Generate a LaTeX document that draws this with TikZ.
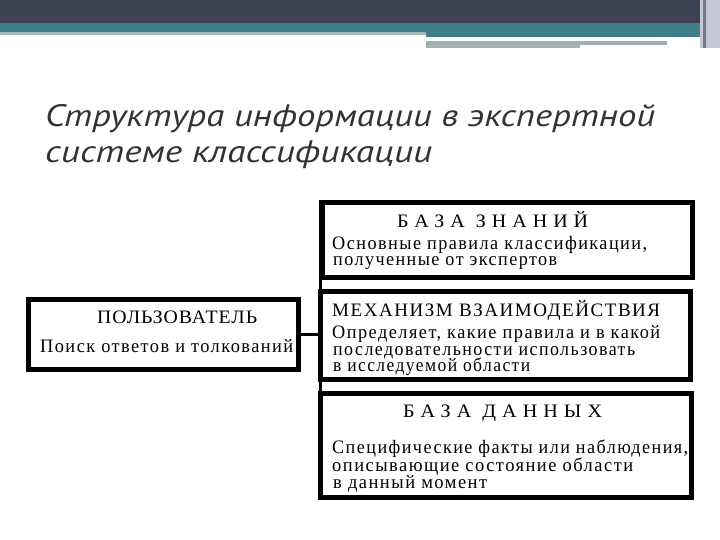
\documentclass[tikz,border=0pt]{standalone}
\usepackage{fontspec}
\usepackage{graphicx}
\setmainfont{Liberation Serif}
\newfontfamily\titlefont{PT Sans}
\newfontfamily\bodyfont{Liberation Serif}[LetterSpace=8]
\newfontfamily\headfont{Liberation Serif}[LetterSpace=30]
\newcommand\fitw[2]{\resizebox{#1}{\height}{#2}}
\definecolor{topdark}{HTML}{3D4354}
\definecolor{topteal}{HTML}{3F7F87}
\definecolor{toplight}{HTML}{A5B7BB}
\definecolor{topgray}{HTML}{9FB0B0}
\definecolor{topgray2}{HTML}{A7B1B0}
\definecolor{sidegray}{HTML}{C6C8D4}
\definecolor{titlegray}{HTML}{333335}
\tikzset{
  box/.style={draw=black, line width=5pt, inner sep=0pt, fill=white},
  txt/.style={anchor=base west, inner sep=0pt, text height=11pt, text depth=3pt, font=\bodyfont\fontsize{19}{19}\selectfont},
  hd/.style={anchor=base west, inner sep=0pt, text height=12pt, text depth=2pt, font=\headfont\fontsize{19}{19}\selectfont},
  ttl/.style={anchor=base west, inner sep=0pt, text=titlegray, font=\titlefont\itshape\fontsize{31}{31}\selectfont},
  conn/.style={draw=black, line width=3pt}
}
\begin{document}
\begin{tikzpicture}[x=1pt,y=-1pt]
\useasboundingbox (0,0) rectangle (720,540);
% header decoration
\fill[topdark] (0,0) rectangle (720,23);
\fill[topteal] (0,23) rectangle (700,32);
\fill[toplight] (0,32) rectangle (426,35);
\fill[topteal] (426,32) rectangle (700,37);
\fill[topgray] (426,41) rectangle (667,45);
\fill[topgray2] (426,45) rectangle (580,48);
\fill[sidegray] (700,0) rectangle (720,48);
\fill[topdark!70] (703,0) rectangle (706,48);
% title
\node[ttl] (t1) at (45,127) {\fitw{610pt}{Структура информации в экспертной}};
\node[ttl] (t2) at (45,163) {\fitw{387pt}{системе классификации}};
% connectors
\coordinate (vtop) at (320,200);
\coordinate (vbot) at (320,500);
\draw[conn] (vtop) -- (vbot);
% boxes
\node[box, minimum width=370pt, minimum height=75pt] (kb) at (507,240) {};
\node[box, minimum width=370pt, minimum height=88pt] (mech) at (505,335) {};
\node[box, minimum width=371pt, minimum height=104pt] (db) at (505.5,445.5) {};
\node[box, minimum width=270pt, minimum height=70pt] (user) at (163,334) {};
\draw[conn] (user.east) -- (user.east -| vtop);
% knowledge base texts
\node[hd] (kbh) at (397,227) {\fitw{191pt}{БАЗА ЗНАНИЙ}};
\node[txt] (kb1) at (332,249) {\fitw{315pt}{Основные правила классификации,}};
\node[txt] (kb2) at (333,265) {\fitw{224pt}{полученные от экспертов}};
% mechanism texts
\node[txt] (mh) at (332,316) {\fitw{328pt}{МЕХАНИЗМ ВЗАИМОДЕЙСТВИЯ}};
\node[txt] (m1) at (332,338) {\fitw{328pt}{Определяет, какие правила и в какой}};
\node[txt] (m2) at (333,355) {\fitw{302pt}{последовательности использовать}};
\node[txt] (m3) at (333,371) {\fitw{197pt}{в исследуемой области}};
% database texts
\node[hd] (dbh) at (403,417) {\fitw{199pt}{БАЗА ДАННЫХ}};
\node[txt] (d1) at (332,453) {\fitw{356pt}{Специфические факты или наблюдения,}};
\node[txt] (d2) at (332,471) {\fitw{301pt}{описывающие состояние области}};
\node[txt] (d3) at (333,488) {\fitw{154pt}{в данный момент}};
% user texts
\node[hd] (uh) at (97,323) {\fitw{160pt}{\fontspec{Liberation Serif}[LetterSpace=5]ПОЛЬЗОВАТЕЛЬ}};
\node[txt] (u1) at (40,352) {\fitw{253pt}{Поиск ответов и толкований}};
\end{tikzpicture}
\end{document}
